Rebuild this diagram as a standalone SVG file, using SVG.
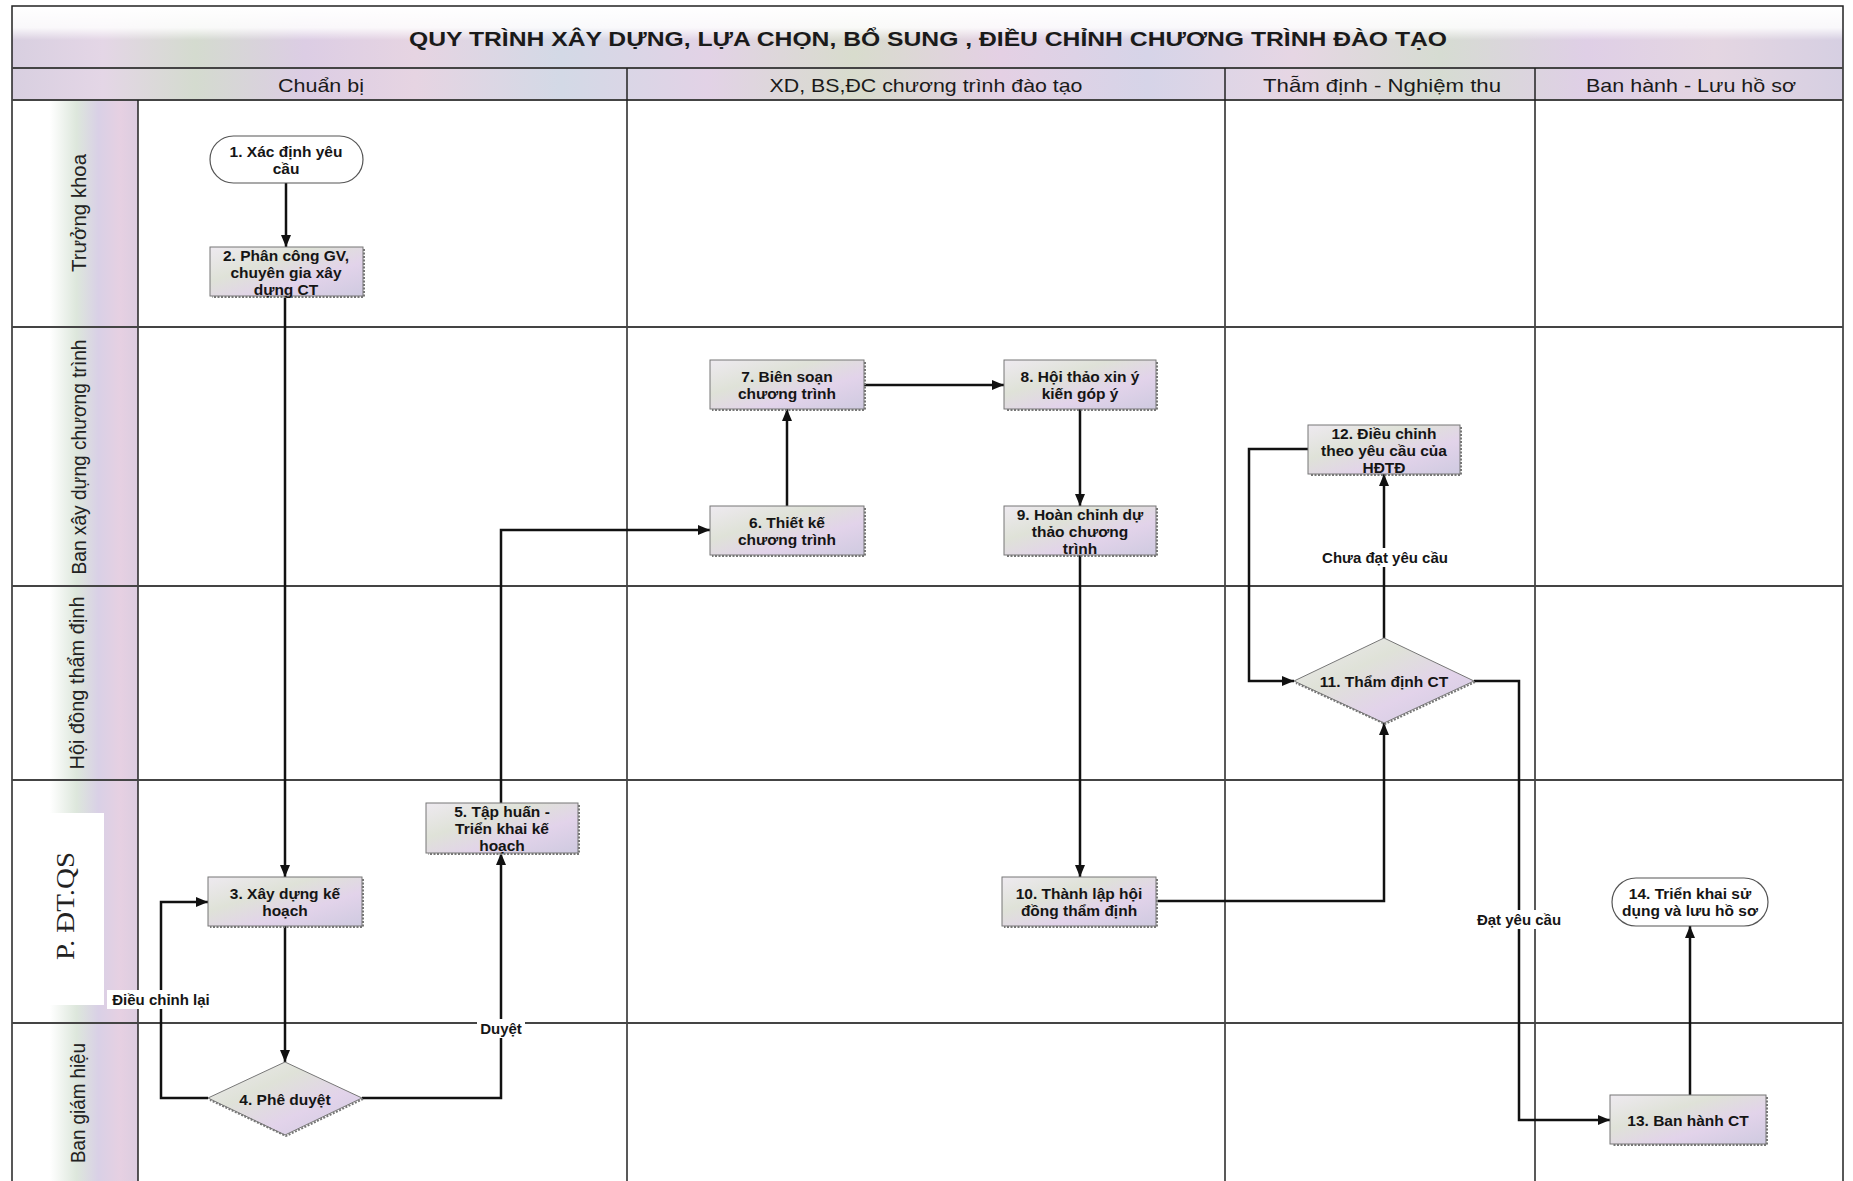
<svg xmlns="http://www.w3.org/2000/svg" width="1853" height="1181" viewBox="0 0 1853 1181">
<defs>
<linearGradient id="band" x1="0" y1="0" x2="1" y2="0">
<stop offset="0" stop-color="#d8cfe0"/><stop offset="0.05" stop-color="#e4d6e6"/><stop offset="0.1" stop-color="#d4dbcf"/><stop offset="0.16" stop-color="#dccde4"/><stop offset="0.22" stop-color="#e6d4e2"/><stop offset="0.3" stop-color="#d3d9e6"/><stop offset="0.38" stop-color="#e2d2e6"/><stop offset="0.46" stop-color="#d8dccd"/><stop offset="0.54" stop-color="#e4d0e4"/><stop offset="0.62" stop-color="#d6d4e8"/><stop offset="0.7" stop-color="#e6d6e4"/><stop offset="0.78" stop-color="#d6dcd2"/><stop offset="0.86" stop-color="#dfcfe6"/><stop offset="0.93" stop-color="#e4d6e2"/><stop offset="1" stop-color="#d6cfe2"/>
</linearGradient>
<linearGradient id="fadeTop" x1="0" y1="0" x2="0" y2="1">
<stop offset="0" stop-color="#ffffff" stop-opacity="1"/><stop offset="0.35" stop-color="#ffffff" stop-opacity="0.85"/><stop offset="0.55" stop-color="#ffffff" stop-opacity="0"/><stop offset="1" stop-color="#ffffff" stop-opacity="0"/>
</linearGradient>
<linearGradient id="strip" x1="0" y1="0" x2="1" y2="0">
<stop offset="0" stop-color="#ffffff"/><stop offset="0.3" stop-color="#dde7dc"/><stop offset="0.55" stop-color="#d9d0e6"/><stop offset="0.8" stop-color="#e6d0e2"/><stop offset="1" stop-color="#dccde0"/>
</linearGradient>
<linearGradient id="nodeFill" x1="0" y1="0" x2="1" y2="1">
<stop offset="0" stop-color="#eeeaf0"/><stop offset="0.35" stop-color="#dfe2d8"/><stop offset="0.65" stop-color="#e2d3ea"/><stop offset="1" stop-color="#cfcae0"/>
</linearGradient>
<marker id="arr" viewBox="0 0 12 10" refX="12" refY="5" markerWidth="12" markerHeight="10" markerUnits="userSpaceOnUse" orient="auto">
<path d="M0,0 L12,5 L0,10 z" fill="#111"/>
</marker>
<style>
.grid{stroke:#222;stroke-width:1.5;fill:none}
.lane{stroke:#444;stroke-width:2.2;fill:none}
.box{fill:url(#nodeFill);stroke:#777;stroke-width:1}
.shadow{fill:none;stroke:#777;stroke-width:2;stroke-dasharray:2 1.5}
.term{fill:#ffffff;stroke:#555;stroke-width:1.2}
.nt{font-family:"Liberation Sans",Arial,sans-serif;font-size:15.5px;font-weight:bold;fill:#151515;text-anchor:middle;dominant-baseline:central}
.lbl{font-family:"Liberation Sans",Arial,sans-serif;font-size:15px;font-weight:bold;fill:#151515;text-anchor:middle;dominant-baseline:central}
.hdr{font-family:"Liberation Sans",Arial,sans-serif;font-size:19px;fill:#1a1a1a;text-anchor:middle;dominant-baseline:central}
.ttl{font-family:"Liberation Sans",Arial,sans-serif;font-size:21px;font-weight:bold;fill:#1a1a1a;text-anchor:middle;dominant-baseline:central}
.ln{font-family:"Liberation Sans",Arial,sans-serif;font-size:21px;fill:#222;text-anchor:middle;dominant-baseline:central}
.con{stroke:#111;stroke-width:2.5;fill:none}
.bg{fill:#ffffff}
</style>
</defs>
<rect x="0" y="0" width="1853" height="1181" fill="#ffffff"/>
<g id="frame">
<rect x="12" y="6" width="1831" height="62" fill="url(#band)"/>
<rect x="12" y="6" width="1831" height="62" fill="url(#fadeTop)"/>
<rect x="12" y="68" width="1831" height="32" fill="url(#band)"/>
<rect x="50" y="100" width="88" height="1081" fill="url(#strip)"/>
<rect x="12" y="813" width="92" height="192" fill="#ffffff"/>
<text class="ttl" x="928" y="38" textLength="1038" lengthAdjust="spacingAndGlyphs">QUY TRÌNH XÂY DỰNG, LỰA CHỌN, BỔ SUNG , ĐIỀU CHỈNH CHƯƠNG TRÌNH ĐÀO TẠO</text>
<text class="hdr" x="321" y="85" textLength="86" lengthAdjust="spacingAndGlyphs">Chuẩn bị</text>
<text class="hdr" x="926" y="85" textLength="313" lengthAdjust="spacingAndGlyphs">XD, BS,ĐC chương trình đào tạo</text>
<text class="hdr" x="1382" y="85" textLength="238" lengthAdjust="spacingAndGlyphs">Thẫm định - Nghiệm thu</text>
<text class="hdr" x="1691" y="85" textLength="210" lengthAdjust="spacingAndGlyphs">Ban hành - Lưu hồ sơ</text>
<text class="ln" transform="translate(78,213) rotate(-90)" textLength="118" lengthAdjust="spacingAndGlyphs">Trưởng khoa</text>
<text class="ln" transform="translate(78,457) rotate(-90)" textLength="235" lengthAdjust="spacingAndGlyphs">Ban xây dựng chương trình</text>
<text class="ln" transform="translate(76,683) rotate(-90)" textLength="173" lengthAdjust="spacingAndGlyphs">Hội đồng thẩm định</text>
<text transform="translate(65,906) rotate(-90)" font-family="'Liberation Serif','Times New Roman',serif" font-size="26" fill="#222" text-anchor="middle" dominant-baseline="central" textLength="108" lengthAdjust="spacingAndGlyphs">P. ĐT.QS</text>
<text class="ln" transform="translate(77,1103) rotate(-90)" textLength="120" lengthAdjust="spacingAndGlyphs">Ban giám hiệu</text>
<rect x="12" y="6" width="1831" height="1180" class="grid" stroke-width="2"/>
<line class="lane" x1="12" y1="68" x2="1843" y2="68"/>
<line class="lane" x1="12" y1="100" x2="1843" y2="100"/>
<line class="grid" x1="138" y1="100" x2="138" y2="1181"/>
<line class="grid" x1="627" y1="68" x2="627" y2="1181"/>
<line class="grid" x1="1225" y1="68" x2="1225" y2="1181"/>
<line class="grid" x1="1535" y1="68" x2="1535" y2="1181"/>
<line class="lane" x1="12" y1="327" x2="1843" y2="327"/>
<line class="lane" x1="12" y1="586" x2="1843" y2="586"/>
<line class="lane" x1="12" y1="780" x2="1843" y2="780"/>
<line class="lane" x1="12" y1="1023" x2="1843" y2="1023"/>
</g>
<g id="connectors">
<line class="con" x1="286" y1="183" x2="286" y2="247" marker-end="url(#arr)"/>
<line class="con" x1="285" y1="296" x2="285" y2="877" marker-end="url(#arr)"/>
<line class="con" x1="285" y1="926" x2="285" y2="1062" marker-end="url(#arr)"/>
<polyline class="con" points="208,1098 161,1098 161,902 208,902" marker-end="url(#arr)"/>
<polyline class="con" points="362,1098 501,1098 501,853" marker-end="url(#arr)"/>
<polyline class="con" points="501,803 501,530 710,530" marker-end="url(#arr)"/>
<line class="con" x1="787" y1="506" x2="787" y2="409" marker-end="url(#arr)"/>
<line class="con" x1="864" y1="385" x2="1004" y2="385" marker-end="url(#arr)"/>
<line class="con" x1="1080" y1="409" x2="1080" y2="506" marker-end="url(#arr)"/>
<line class="con" x1="1080" y1="555" x2="1080" y2="877" marker-end="url(#arr)"/>
<polyline class="con" points="1156,901 1384,901 1384,723" marker-end="url(#arr)"/>
<line class="con" x1="1384" y1="638" x2="1384" y2="474" marker-end="url(#arr)"/>
<polyline class="con" points="1308,449 1249,449 1249,681 1294,681" marker-end="url(#arr)"/>
<polyline class="con" points="1474,681 1519,681 1519,1120 1610,1120" marker-end="url(#arr)"/>
<line class="con" x1="1690" y1="1095" x2="1690" y2="926" marker-end="url(#arr)"/>
<rect class="bg" x="107" y="990" width="109" height="19"/>
<text class="lbl" x="161" y="999">Điều chỉnh lại</text>
<rect class="bg" x="477" y="1019" width="48" height="19"/>
<text class="lbl" x="501" y="1028">Duyệt</text>
<rect class="bg" x="1316" y="548" width="138" height="19"/>
<text class="lbl" x="1385" y="557">Chưa đạt yêu cầu</text>
<rect class="bg" x="1471" y="910" width="96" height="19"/>
<text class="lbl" x="1519" y="919">Đạt yêu cầu</text>
</g>
<g id="n1">
<rect class="term" x="210" y="136" width="153" height="47" rx="23.5"/>
<text class="nt" x="286" y="151">1. Xác định yêu</text>
<text class="nt" x="286" y="168">cầu</text>
</g>
<g id="n2">
<polyline class="shadow" points="364,249 364,297 212,297"/>
<rect class="box" x="210" y="247" width="153" height="49"/>
<text class="nt" x="286" y="255">2. Phân công GV,</text>
<text class="nt" x="286" y="272">chuyên gia xây</text>
<text class="nt" x="286" y="289">dựng CT</text>
</g>
<g id="n3">
<polyline class="shadow" points="363,879 363,927 210,927"/>
<rect class="box" x="208" y="877" width="154" height="49"/>
<text class="nt" x="285" y="893">3. Xây dựng kế</text>
<text class="nt" x="285" y="910">hoạch</text>
</g>
<g id="n4">
<polygon points="285,1062 362,1098 285,1135 208,1098" class="box"/>
<polyline class="shadow" points="363,1099 286,1136 210,1100"/>
<text class="nt" x="285" y="1099">4. Phê duyệt</text>
</g>
<g id="n5">
<polyline class="shadow" points="579,805 579,854 428,854"/>
<rect class="box" x="426" y="803" width="152" height="50"/>
<text class="nt" x="502" y="811">5. Tập huấn -</text>
<text class="nt" x="502" y="828">Triển khai kế</text>
<text class="nt" x="502" y="845">hoạch</text>
</g>
<g id="n6">
<polyline class="shadow" points="865,508 865,556 712,556"/>
<rect class="box" x="710" y="506" width="154" height="49"/>
<text class="nt" x="787" y="522">6. Thiết kế</text>
<text class="nt" x="787" y="539">chương trình</text>
</g>
<g id="n7">
<polyline class="shadow" points="865,362 865,410 712,410"/>
<rect class="box" x="710" y="360" width="154" height="49"/>
<text class="nt" x="787" y="376">7. Biên soạn</text>
<text class="nt" x="787" y="393">chương trình</text>
</g>
<g id="n8">
<polyline class="shadow" points="1157,362 1157,410 1006,410"/>
<rect class="box" x="1004" y="360" width="152" height="49"/>
<text class="nt" x="1080" y="376">8. Hội thảo xin ý</text>
<text class="nt" x="1080" y="393">kiến góp ý</text>
</g>
<g id="n9">
<polyline class="shadow" points="1157,508 1157,556 1006,556"/>
<rect class="box" x="1004" y="506" width="152" height="49"/>
<text class="nt" x="1080" y="514">9. Hoàn chỉnh dự</text>
<text class="nt" x="1080" y="531">thảo chương</text>
<text class="nt" x="1080" y="548">trình</text>
</g>
<g id="n10">
<polyline class="shadow" points="1157,879 1157,927 1004,927"/>
<rect class="box" x="1002" y="877" width="154" height="49"/>
<text class="nt" x="1079" y="893">10. Thành lập hội</text>
<text class="nt" x="1079" y="910">đồng thẩm định</text>
</g>
<g id="n11">
<polygon points="1384,638 1474,681 1384,723 1294,681" class="box"/>
<polyline class="shadow" points="1475,682 1385,724 1296,683"/>
<text class="nt" x="1384" y="681">11. Thẩm định CT</text>
</g>
<g id="n12">
<polyline class="shadow" points="1461,427 1461,475 1310,475"/>
<rect class="box" x="1308" y="425" width="152" height="49"/>
<text class="nt" x="1384" y="433">12. Điều chỉnh</text>
<text class="nt" x="1384" y="450">theo yêu cầu của</text>
<text class="nt" x="1384" y="467">HĐTĐ</text>
</g>
<g id="n13">
<polyline class="shadow" points="1767,1097 1767,1145 1612,1145"/>
<rect class="box" x="1610" y="1095" width="156" height="49"/>
<text class="nt" x="1688" y="1120">13. Ban hành CT</text>
</g>
<g id="n14">
<rect class="term" x="1612" y="878" width="156" height="48" rx="24"/>
<text class="nt" x="1690" y="893">14. Triển khai sử</text>
<text class="nt" x="1690" y="910">dụng và lưu hồ sơ</text>
</g>
</svg>
